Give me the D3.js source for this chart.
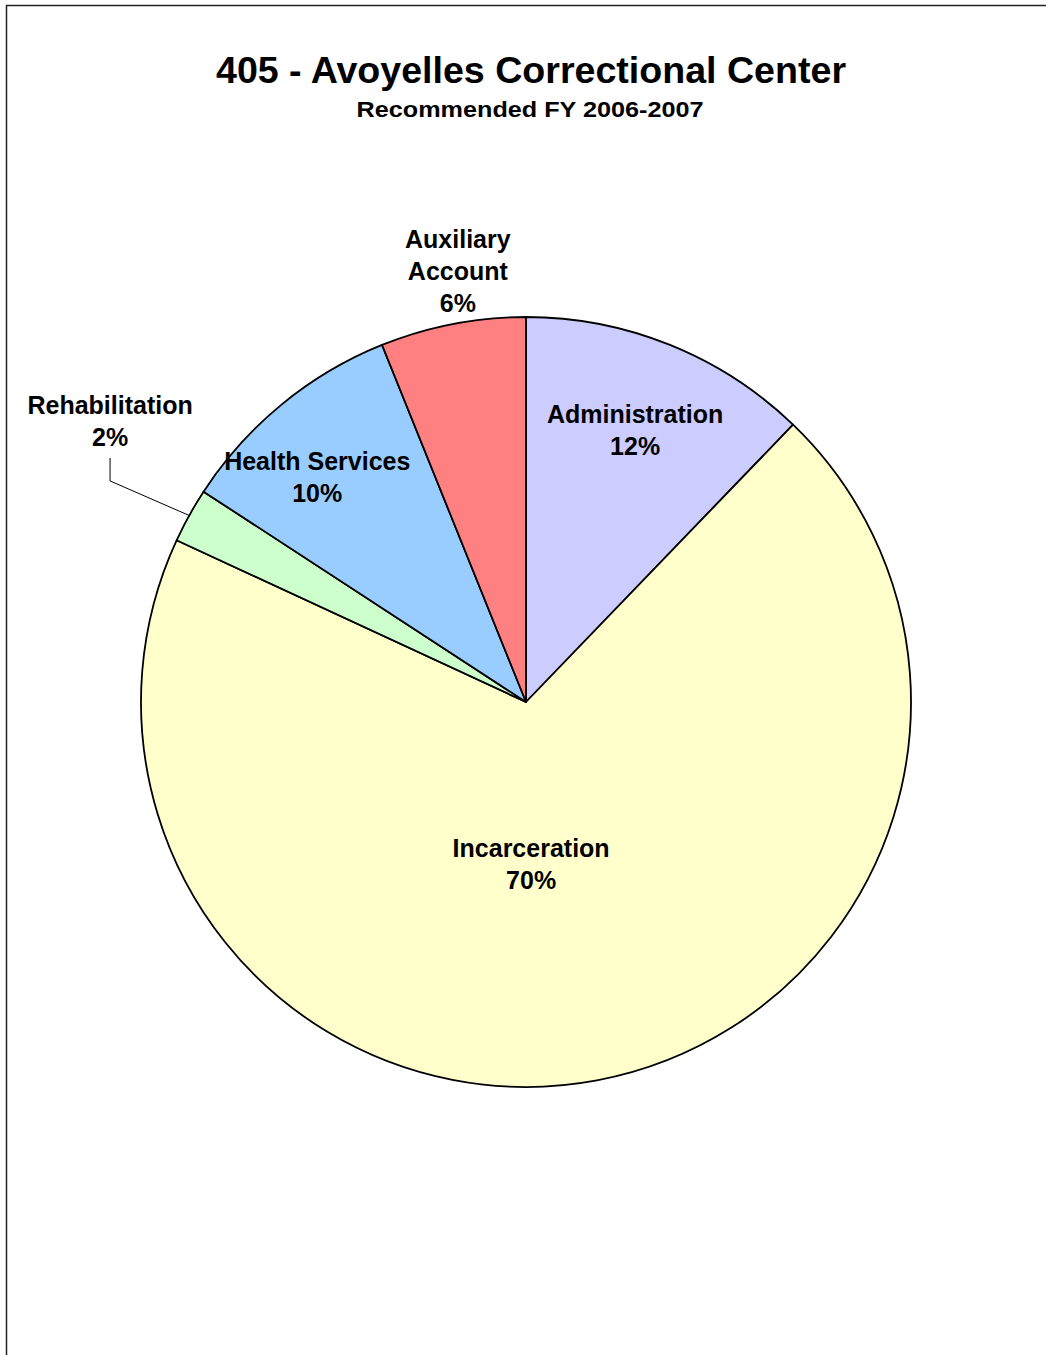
<!DOCTYPE html>
<html>
<head>
<meta charset="utf-8">
<script src="https://cdn.jsdelivr.net/npm/d3@7"></script>
<style>
  html, body { margin: 0; padding: 0; background: #fff; }
  svg { display: block; }
  text { font-family: "Liberation Sans", Arial, Helvetica, sans-serif; font-weight: bold; fill: #000; }
</style>
</head>
<body>
<script>
// ---- data ----
const categories = ["Administration", "Incarceration", "Rehabilitation", "Health Services", "Auxiliary Account"];
const values = [12.2, 69.7, 2.3, 9.7, 6.1];
const percentLabels = ["12%", "70%", "2%", "10%", "6%"];
const labelLines = [["Administration"], ["Incarceration"], ["Rehabilitation"], ["Health Services"], ["Auxiliary", "Account"]];
const colors = ["#CCCCFF", "#FFFFCC", "#CCFFCC", "#99CCFF", "#FF8080"];
const titleText = "405 - Avoyelles Correctional Center";
const subtitleText = "Recommended FY 2006-2007";

// ---- layout ----
const W = 1046, H = 1355;
const cx = 526, cy = 702, R = 385;
// label placement: polar (radius px, angle deg clockwise from 12 o'clock)
const labelPolar = [[292.6, 21.9], [162.6, 178.2], [501.7, 304.0], [306.7, 317.1], [435.8, 351.0]];
const leaderFor = [false, false, true, false, false];
const lineGap = 32, fontSize = 25;

const svg = d3.select("body").append("svg").attr("width", W).attr("height", H);

// frame
svg.append("rect").attr("x", 6.5).attr("y", 5.5).attr("width", W + 50).attr("height", H + 50)
  .attr("fill", "none").attr("stroke", "#222").attr("stroke-width", 1.5);

// titles
svg.append("text").attr("x", 531).attr("y", 83).attr("text-anchor", "middle")
  .attr("font-size", 37.6).text(titleText);
svg.append("text").attr("x", 530).attr("y", 117).attr("text-anchor", "middle")
  .attr("font-size", 22.5).attr("textLength", 347).attr("lengthAdjust", "spacingAndGlyphs")
  .text(subtitleText);

const pie = d3.pie().sort(null).value(d => d)(values);
const arc = d3.arc().innerRadius(0).outerRadius(R);
const rimArc = d3.arc().innerRadius(R).outerRadius(R);

const g = svg.append("g").attr("transform", `translate(${cx},${cy})`);
g.selectAll("path.slice").data(pie).join("path")
  .attr("class", "slice")
  .attr("d", arc)
  .attr("fill", (d, i) => colors[i])
  .attr("stroke", "#000").attr("stroke-width", 1.8).attr("stroke-linejoin", "round");

// labels
pie.forEach((d, i) => {
  const [r, a] = labelPolar[i];
  const rad = a * Math.PI / 180;
  const lx = r * Math.sin(rad), ly = -r * Math.cos(rad);
  const lines = labelLines[i].concat([percentLabels[i]]);
  const n = lines.length;
  const b1 = ly - (n - 1) * lineGap / 2 + 8.5;
  const t = g.append("text").attr("text-anchor", "middle").attr("font-size", fontSize);
  lines.forEach((s, k) => {
    t.append("tspan").attr("x", lx).attr("y", b1 + k * lineGap).text(s);
  });
  if (leaderFor[i]) {
    const rim = rimArc.centroid(d);
    const top = b1 + (n - 1) * lineGap + 12;
    g.append("polyline")
      .attr("points", [[lx, top], [lx, top + 23], rim].map(p => p.join(",")).join(" "))
      .attr("fill", "none").attr("stroke", "#000").attr("stroke-width", 1);
  }
});
</script>
</body>
</html>
